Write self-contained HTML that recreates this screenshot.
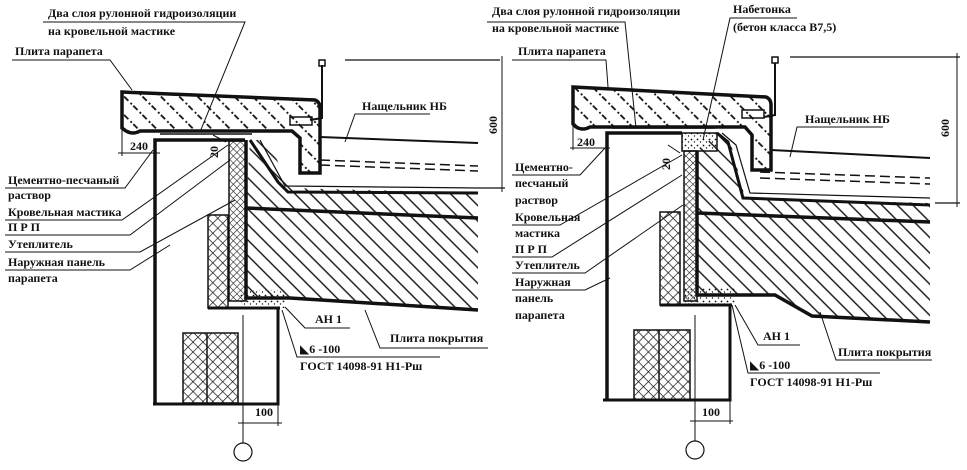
<!DOCTYPE html>
<html><head><meta charset="utf-8"><style>
html,body{margin:0;padding:0;background:#fff;width:967px;height:470px;overflow:hidden}
text{font-family:"Liberation Serif","DejaVu Serif",serif;font-weight:bold;font-size:12px;fill:#111}
</style></head><body>
<svg width="967" height="470" viewBox="0 0 967 470" xmlns="http://www.w3.org/2000/svg">
<defs>
<pattern id="h" width="11" height="11" patternUnits="userSpaceOnUse" patternTransform="rotate(45)"><line x1="0" y1="5.5" x2="11" y2="5.5" stroke="#111" stroke-width="1.4"/></pattern>
<pattern id="hd" width="13" height="13" patternUnits="userSpaceOnUse" patternTransform="rotate(45)"><line x1="0" y1="6.5" x2="6" y2="6.5" stroke="#111" stroke-width="1.8"/><line x1="9" y1="6.5" x2="11" y2="6.5" stroke="#111" stroke-width="1.8"/></pattern>
<pattern id="x" width="7" height="7" patternUnits="userSpaceOnUse" patternTransform="rotate(45)"><line x1="0" y1="0" x2="7" y2="0" stroke="#111" stroke-width="1.4"/><line x1="0" y1="0" x2="0" y2="7" stroke="#111" stroke-width="1.4"/></pattern>
<pattern id="xf" width="5" height="5" patternUnits="userSpaceOnUse" patternTransform="rotate(45)"><line x1="0" y1="0" x2="5" y2="0" stroke="#111" stroke-width="1.1"/><line x1="0" y1="0" x2="0" y2="5" stroke="#111" stroke-width="1.1"/></pattern>
<pattern id="d" width="6" height="6" patternUnits="userSpaceOnUse"><circle cx="1.5" cy="1.5" r="0.9" fill="#111"/><circle cx="4.5" cy="4" r="0.7" fill="#111"/></pattern>
</defs>
<g fill="none" stroke="#111">
<!-- ===== LEFT ===== -->
<polygon points="246,208 478,216 478,310 290,298 246,298" fill="url(#h)" stroke="none"/>
<polygon points="250,140 268,140 290,188 478,193 478,216 246,208" fill="url(#h)" stroke="none"/>
<path d="M122,92 L315,100 Q320,102 320,108 L320,173 L300,173 L300,138 L292,131 L140,131 Q133,135 126,131 L122,128 Z" fill="url(#hd)" stroke-width="3.5"/>
<path d="M155,405 L155,140 L245,140" stroke-width="3.5"/>
<line x1="160" y1="134" x2="252" y2="134" stroke-width="1.5"/>
<rect x="229" y="141" width="17" height="160" fill="url(#xf)" stroke-width="1.5"/>
<path d="M246,140 L246,298 L290,298 L478,310" stroke-width="3.5"/>
<rect x="208" y="215" width="20" height="93" fill="url(#x)" stroke-width="1.5"/>
<path d="M208,308 L280,308 L278,308 L278,404 L153,404" stroke-width="3"/>
<path d="M250,140 L278,182 L288,192 L478,193" stroke-width="3"/>
<path d="M246,208 L478,218" stroke-width="3.5"/>
<path d="M260,140 L285,186 L478,188" stroke-width="1.2"/>
<path d="M320,137 L478,143" stroke-width="2"/>
<path d="M320,160 L478,166 M320,165 L478,171" stroke-width="1.5" stroke-dasharray="10,5"/>
<rect x="290" y="117" width="22" height="8" stroke-width="1.5"/>
<path d="M322,65 L322,118 L310,120" stroke-width="2"/>
<rect x="319" y="60" width="6" height="6" stroke-width="1.5"/>
<rect x="240" y="290" width="45" height="18" fill="url(#d)" stroke="none"/>
<rect x="183" y="333" width="55" height="70" fill="url(#x)" stroke-width="1.5"/>
<line x1="207" y1="333" x2="207" y2="403" stroke-width="1.5"/>
<line x1="243" y1="315" x2="243" y2="443" stroke-width="1"/>
<line x1="238" y1="423" x2="282" y2="423" stroke-width="1"/>
<line x1="278" y1="404" x2="278" y2="426" stroke-width="1"/>
<circle cx="243" cy="452" r="9" stroke-width="1.2"/>
<!-- dims left -->
<line x1="345" y1="60" x2="500" y2="60" stroke-width="1.2"/>
<line x1="478" y1="188" x2="505" y2="188" stroke-width="1.2"/>
<line x1="502" y1="56" x2="502" y2="192" stroke-width="1"/>
<line x1="118" y1="153" x2="160" y2="153" stroke-width="1"/>
<line x1="122" y1="128" x2="122" y2="156" stroke-width="1"/>
<line x1="213" y1="135" x2="226" y2="142" stroke-width="1"/>
<!-- leaders left -->
<path d="M43,22 L245,22 L200,132" stroke-width="1"/>
<path d="M12,60 L110,60 L132,90" stroke-width="1"/>
<path d="M5,188 L125,188 L153,150" stroke-width="1"/>
<path d="M5,220 L122,220 L228,145" stroke-width="1"/>
<path d="M5,235 L130,235 L230,160" stroke-width="1"/>
<path d="M5,252 L140,252 L235,200" stroke-width="1"/>
<path d="M5,270 L130,270 L170,245" stroke-width="1"/>
<path d="M430,114 L355,114 L345,142" stroke-width="1"/>
<path d="M350,328 L305,328 L285,307" stroke-width="1"/>
<path d="M488,348 L380,348 L365,310" stroke-width="1"/>
<path d="M440,357 L297,357 L282,310" stroke-width="1"/>

<!-- ===== RIGHT ===== -->
<polygon points="697,213 930,220 930,322 812,316 775,295 697,295" fill="url(#h)" stroke="none"/>
<polygon points="717,135 730,140 745,198 930,203 930,220 697,213 697,150" fill="url(#h)" stroke="none"/>
<path d="M573,87 L766,97 Q771,99 771,105 L771,170 L752,170 L752,135 L745,127 L590,127 Q583,131 576,127 L573,124 Z" fill="url(#hd)" stroke-width="3.5"/>
<path d="M607,400 L607,133 L682,133" stroke-width="3.5"/>
<line x1="612" y1="128" x2="715" y2="128" stroke-width="1.5"/>
<rect x="682" y="133" width="35" height="18" fill="url(#d)" stroke-width="1.5"/>
<rect x="684" y="151" width="13" height="150" fill="url(#xf)" stroke-width="1.5"/>
<path d="M697,151 L697,295 L775,295 L812,316 L930,322" stroke-width="3.5"/>
<rect x="660" y="212" width="20" height="93" fill="url(#x)" stroke-width="1.5"/>
<path d="M660,305 L732,305 L730,305 L730,400 L603,400" stroke-width="3"/>
<path d="M717,133 L728,142 L743,198 L930,205" stroke-width="3"/>
<path d="M697,213 L930,222" stroke-width="3.5"/>
<path d="M722,133 L736,145 L750,193 L930,198" stroke-width="1.2"/>
<path d="M771,150 L930,158" stroke-width="2"/>
<path d="M760,172 L930,178 M760,178 L930,184" stroke-width="1.5" stroke-dasharray="10,5"/>
<rect x="742" y="110" width="22" height="8" stroke-width="1.5"/>
<path d="M775,63 L775,115 L764,117" stroke-width="2"/>
<rect x="772" y="57" width="6" height="6" stroke-width="1.5"/>
<rect x="685" y="288" width="50" height="16" fill="url(#d)" stroke="none"/>
<rect x="634" y="330" width="56" height="70" fill="url(#x)" stroke-width="1.5"/>
<line x1="659" y1="330" x2="659" y2="400" stroke-width="1.5"/>
<line x1="695" y1="315" x2="695" y2="441" stroke-width="1"/>
<line x1="690" y1="421" x2="733" y2="421" stroke-width="1"/>
<line x1="730" y1="400" x2="730" y2="424" stroke-width="1"/>
<circle cx="695" cy="450" r="9" stroke-width="1.2"/>
<!-- dims right -->
<line x1="790" y1="57" x2="960" y2="57" stroke-width="1.2"/>
<line x1="935" y1="203" x2="960" y2="203" stroke-width="1.2"/>
<line x1="957" y1="53" x2="957" y2="207" stroke-width="1"/>
<line x1="570" y1="148" x2="610" y2="148" stroke-width="1"/>
<line x1="573" y1="124" x2="573" y2="150" stroke-width="1"/>
<line x1="668" y1="145" x2="680" y2="153" stroke-width="1"/>
<!-- leaders right -->
<path d="M487,22 L625,22 L636,128" stroke-width="1"/>
<path d="M797,18 L730,18 L703,140" stroke-width="1"/>
<path d="M512,60 L606,60 L608,87" stroke-width="1"/>
<path d="M512,175 L580,175 L605,148" stroke-width="1"/>
<path d="M512,225 L560,225 L682,155" stroke-width="1"/>
<path d="M512,257 L552,257 L682,175" stroke-width="1"/>
<path d="M512,273 L585,273 L683,205" stroke-width="1"/>
<path d="M512,290 L585,290 L610,278" stroke-width="1"/>
<path d="M883,127 L797,127 L790,157" stroke-width="1"/>
<path d="M800,345 L758,345 L735,305" stroke-width="1"/>
<path d="M932,360 L836,360 L820,312" stroke-width="1"/>
<path d="M880,373 L748,373 L732,305" stroke-width="1"/>
</g>
<!-- LEFT TEXT -->
<text x="48" y="17">Два слоя рулонной гидроизоляции</text>
<text x="48" y="35">на кровельной мастике</text>
<text x="15" y="55">Плита парапета</text>
<text x="130" y="150">240</text>
<text x="8" y="184">Цементно-песчаный</text>
<text x="8" y="199">раствор</text>
<text x="8" y="216">Кровельная мастика</text>
<text x="8" y="231">П Р П</text>
<text x="8" y="248">Утеплитель</text>
<text x="8" y="266">Наружная панель</text>
<text x="8" y="282">парапета</text>
<text x="362" y="110">Нащельник НБ</text>
<text x="315" y="323">АН 1</text>
<text x="390" y="342">Плита покрытия</text>
<text x="300" y="353">◣6 -100</text>
<text x="300" y="370">ГОСТ 14098-91 Н1-Рш</text>
<text x="255" y="416">100</text>
<text transform="translate(218,158) rotate(-90)">20</text>
<text transform="translate(497,134) rotate(-90)">600</text>
<!-- RIGHT TEXT -->
<text x="492" y="15">Два слоя рулонной гидроизоляции</text>
<text x="492" y="32">на кровельной мастике</text>
<text x="733" y="13">Набетонка</text>
<text x="733" y="31">(бетон класса В7,5)</text>
<text x="518" y="55">Плита парапета</text>
<text x="577" y="146">240</text>
<text x="515" y="171">Цементно-</text>
<text x="515" y="187">песчаный</text>
<text x="515" y="204">раствор</text>
<text x="515" y="221">Кровельная</text>
<text x="515" y="237">мастика</text>
<text x="515" y="253">П Р П</text>
<text x="515" y="269">Утеплитель</text>
<text x="515" y="286">Наружная</text>
<text x="515" y="302">панель</text>
<text x="515" y="319">парапета</text>
<text x="805" y="123">Нащельник НБ</text>
<text x="763" y="340">АН 1</text>
<text x="838" y="356">Плита покрытия</text>
<text x="750" y="369">◣6 -100</text>
<text x="750" y="386">ГОСТ 14098-91 Н1-Рш</text>
<text x="702" y="416">100</text>
<text transform="translate(670,170) rotate(-90)">20</text>
<text transform="translate(949,137) rotate(-90)">600</text>
</svg>
</body></html>
